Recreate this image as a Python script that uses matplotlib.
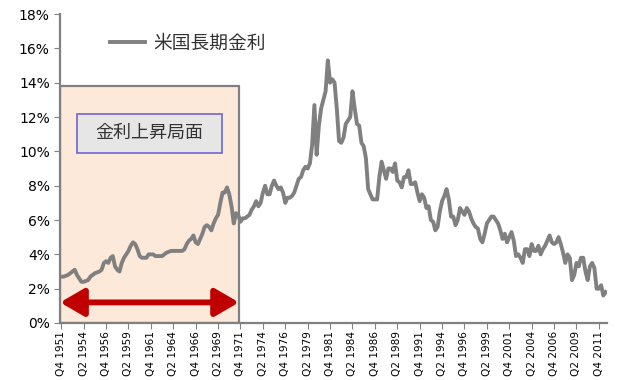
import numpy as np
import matplotlib
matplotlib.use("Agg")
import matplotlib.pyplot as plt
from matplotlib.patches import Rectangle, FancyArrowPatch
from matplotlib.ticker import FuncFormatter

plt.rcParams['font.family'] = ['DejaVu Sans', 'Noto Sans CJK JP']

# quarterly US long-term rate (%), Q4 1951 .. Q3 2012
rates = [2.7,
         2.7, 2.75, 2.8, 2.9,  3.0, 3.1, 2.8, 2.6,  2.4, 2.4, 2.45, 2.5,
         2.7, 2.8, 2.9, 2.95,  3.0, 3.1, 3.5, 3.6,  3.5, 3.8, 3.9, 3.3,
         3.1, 3.0, 3.5, 3.8,  4.0, 4.2, 4.5, 4.7,  4.6, 4.3, 3.9, 3.8,
         3.8, 3.8, 4.0, 4.0,  4.0, 3.9, 3.9, 3.9,  3.9, 4.0, 4.1, 4.15,
         4.2, 4.2, 4.2, 4.2,  4.2, 4.2, 4.3, 4.6,  4.8, 4.9, 5.1, 4.7,
         4.6, 4.9, 5.2, 5.6,  5.7, 5.6, 5.4, 5.8,  6.1, 6.3, 7.0, 7.6,
         7.6, 7.9, 7.5, 6.8,  5.8, 6.4, 6.3, 5.9,  6.1, 6.1, 6.2, 6.3,
         6.6, 6.8, 7.1, 6.8,  7.0, 7.6, 8.0, 7.5,  7.5, 8.0, 8.3, 8.0,
         7.8, 7.9, 7.6, 7.0,  7.3, 7.3, 7.4, 7.6,  8.0, 8.4, 8.5, 8.9,
         9.1, 9.0, 9.3, 10.4,  12.7, 9.8, 11.5, 12.5,  13.0, 13.5, 15.3, 14.0,
         14.2, 14.0, 12.5, 10.6,  10.5, 10.8, 11.6, 11.8,  12.0, 13.5, 12.5, 11.6,
         11.5, 10.5, 10.3, 9.6,  7.8, 7.5, 7.2, 7.2,  7.2, 8.5, 9.4, 8.9,
         8.4, 9.0, 9.0, 8.8,  9.3, 8.3, 8.2, 7.9,  8.5, 8.5, 8.9, 8.1,
         8.1, 8.2, 7.6, 7.1,  7.5, 7.3, 6.7, 6.8,  6.0, 5.9, 5.4, 5.6,
         6.5, 7.1, 7.4, 7.8,  7.2, 6.2, 6.2, 5.7,  6.0, 6.7, 6.5, 6.3,
         6.7, 6.5, 6.1, 5.8,  5.6, 5.5, 4.9, 4.7,  5.2, 5.8, 6.0, 6.2,
         6.2, 6.0, 5.8, 5.4,  4.9, 5.2, 4.7, 5.0,  5.3, 4.8, 3.9, 4.0,
         3.8, 3.5, 4.3, 4.3,  3.9, 4.6, 4.2, 4.2,  4.5, 4.0, 4.3, 4.5,
         4.8, 5.1, 4.7, 4.6,  4.7, 5.0, 4.6, 4.1,  3.5, 4.0, 3.8, 2.5,
         2.8, 3.5, 3.3, 3.8,  3.8, 3.0, 2.5, 3.3,  3.5, 3.2, 2.0, 2.0,
         2.2, 1.6, 1.8]

quarters = []
y, q = 1951, 4
for _ in rates:
    quarters.append(f"Q{q} {y}")
    q += 1
    if q > 4:
        q, y = 1, y + 1

x = np.arange(len(rates))
cjk = ['Noto Sans CJK JP', 'DejaVu Sans']

fig = plt.figure(figsize=(6.4, 3.8), dpi=100)
ax = fig.add_axes([0.094, 0.15, 0.854, 0.813])

# rising-rate period box
ax.add_patch(Rectangle((-0.5, 0), 79.8, 13.8, facecolor="#fde9d9",
                       edgecolor="#808080", linewidth=1.6, zorder=1))
ax.add_patch(Rectangle((7.1, 9.9), 64.8, 2.3, facecolor="#e6e6e6",
                       edgecolor="#7b6fd0", linewidth=1.3, zorder=3))
ax.text(39.5, 11.05, "金利上昇局面", ha="center", va="center", fontsize=13,
        color="#333333", family=cjk, zorder=4)
ax.add_patch(FancyArrowPatch((-0.5, 1.2), (79.3, 1.2),
                             arrowstyle="<|-|>,head_length=1.2,head_width=0.7",
                             mutation_scale=12, color="#c00000",
                             linewidth=4.2, shrinkA=0, shrinkB=0, zorder=3))

ax.plot(x, rates, color="#808080", linewidth=2.8, label="米国長期金利",
        solid_joinstyle="round", zorder=5)

ax.set_xlim(-0.5, len(rates) - 0.5)
ax.set_ylim(0, 18)
ax.set_yticks(np.arange(0, 19, 2))
ax.yaxis.set_major_formatter(FuncFormatter(lambda v, p: f"{v:.0f}%"))
ax.set_xticks(x[::10])
ax.set_xticklabels(quarters[::10], rotation=90, fontsize=7.6)
ax.tick_params(axis="y", labelsize=10, length=4, color="#808080")
ax.tick_params(axis="x", length=4, pad=2, color="#808080")

for side in ["top", "right"]:
    ax.spines[side].set_visible(False)
for side in ["left", "bottom"]:
    ax.spines[side].set_color("#808080")
    ax.spines[side].set_linewidth(1.6)

leg = ax.legend(loc="upper left", bbox_to_anchor=(0.06, 0.995), frameon=False,
                handlelength=1.9, handletextpad=0.4,
                prop={"family": cjk, "size": 13.5})
for t in leg.get_texts():
    t.set_color("#333333")

fig.savefig("out.png", dpi=100)
